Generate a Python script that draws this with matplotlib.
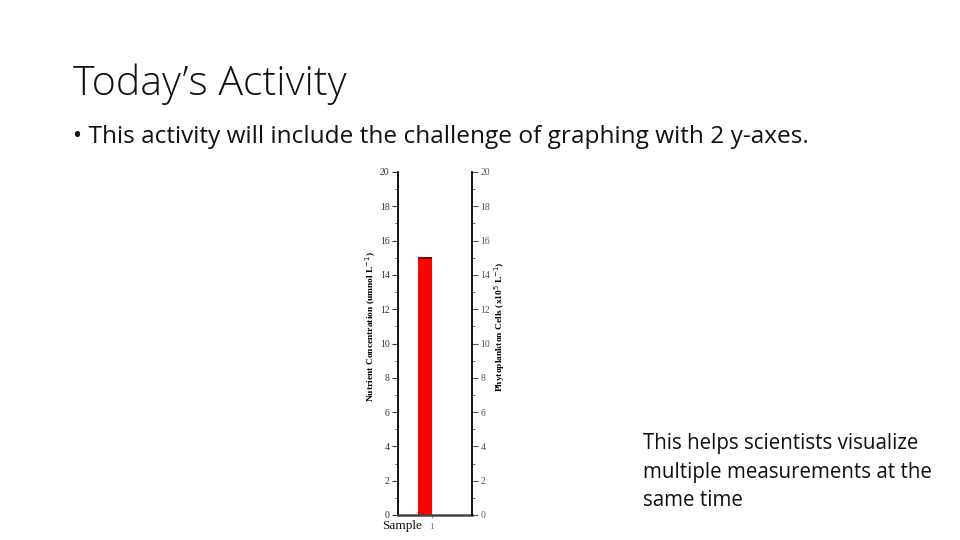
import matplotlib
matplotlib.use("Agg")
import matplotlib.pyplot as plt
from matplotlib.ticker import MultipleLocator

categories = ["1"]
nutrient_values = [15]
left_ticks = [0, 2, 4, 6, 8, 10, 12, 14, 16, 18, 20]
right_ticks = [0, 2, 4, 6, 8, 10, 12, 14, 16, 18, 20]

title = "Today\u2019s Activity"
bullet = "\u2022 This activity will include the challenge of graphing with 2 y-axes."
side_text = "This helps scientists visualize\nmultiple measurements at the\nsame time"

W, H = 960, 540
fig = plt.figure(figsize=(9.6, 5.4), dpi=100)
fig.patch.set_facecolor("white")

fig.text(73 / W, 1 - 95 / H, title, fontsize=29.6, family="Open Sans",
         weight="light", color="#111111", va="baseline", ha="left")
fig.text(73 / W, 1 - 143 / H, bullet, fontsize=17.6, family="Open Sans",
         color="#111111", va="baseline", ha="left")
fig.text(643 / W, 1 - 433 / H, side_text, fontsize=14.8, family="Open Sans",
         color="#111111", va="top", ha="left", linespacing=1.47)

ax = fig.add_axes([398 / W, 25 / H, 74 / W, 343 / H])
serif = "Liberation Serif"

x = [1]
ax.bar(x, nutrient_values, width=-0.41, align="edge", color="#FF0000",
       edgecolor="none", zorder=2)
ax.hlines(nutrient_values, [v - 0.41 for v in x], x, colors="#7A0000",
          linewidth=1.4, zorder=3)
ax.set_xlim(0, 2.18)
ax.set_ylim(0, 20)
ax.set_yticks(left_ticks)
ax.yaxis.set_minor_locator(MultipleLocator(1))
ax.set_xticks(x)
ax.set_xticklabels(categories, fontsize=6.5, family=serif, color="#555555")
ax.tick_params(axis="x", length=2, width=0.6, pad=4, colors="#777777")
ax.tick_params(axis="y", which="major", direction="out", length=4, width=0.8,
               labelsize=7.0, pad=2, colors="#333333")
ax.tick_params(axis="y", which="minor", direction="out", length=2, width=0.6,
               colors="#333333")
for lab in ax.get_yticklabels():
    lab.set_family(serif)
ax.spines["top"].set_visible(False)
ax.spines["left"].set_linewidth(1.3)
ax.spines["bottom"].set_linewidth(1.8)
ax.spines["bottom"].set_color("#444444")
ax.spines["right"].set_visible(False)
ax.set_ylabel("Nutrient Concentration (umnol L$^{-1}$)", fontsize=6.8,
              family=serif, weight="bold")
ax.yaxis.set_label_coords(-0.265, 0.55)

ax2 = ax.twinx()
ax2.set_ylim(0, 20)
ax2.set_yticks(right_ticks)
ax2.yaxis.set_minor_locator(MultipleLocator(1))
ax2.tick_params(axis="y", which="major", direction="out", length=4, width=0.8,
                labelsize=7.0, pad=2, colors="#555555")
ax2.tick_params(axis="y", which="minor", direction="out", length=2, width=0.6,
                colors="#555555")
for lab in ax2.get_yticklabels():
    lab.set_family(serif)
for s in ["top", "left", "bottom"]:
    ax2.spines[s].set_visible(False)
ax2.spines["right"].set_linewidth(1.3)
ax2.set_ylabel("Phytoplankton Cells (x10$^{5}$ L$^{-1}$)", fontsize=6.8,
               family=serif, weight="bold", rotation=90)
ax2.yaxis.set_label_coords(1.27, 0.55)

fig.text(402 / W, 1 - 525.5 / H, "Sample", fontsize=9.5, family=serif,
         ha="center", va="center", color="#111111")

fig.savefig("out.png", dpi=100, facecolor="white")
